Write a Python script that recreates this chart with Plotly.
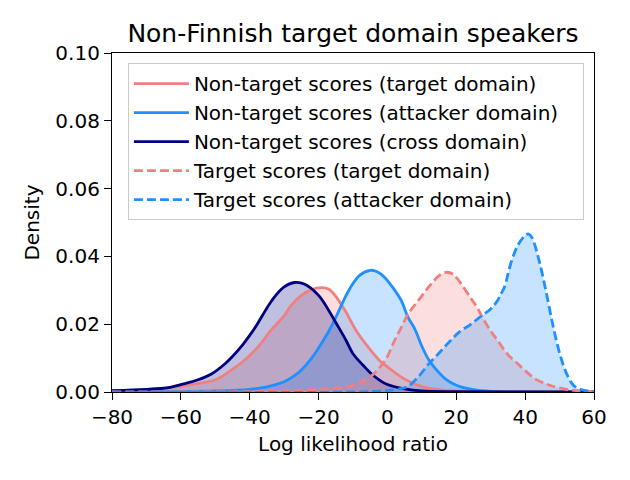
import plotly.graph_objects as go

# Non-target scores (target domain)
nt_target_x = [-80, -70, -60, -57, -50, -46, -42, -40, -37, -34, -30, -28, -25, -22, -19, -17, -15, -12, -9, -5, -2, 0, 5, 10, 15, 20, 30, 60]
nt_target_y = [0.0003, 0.0007, 0.0017, 0.0022, 0.0036, 0.006, 0.009, 0.0108, 0.014, 0.018, 0.0225, 0.0255, 0.0285, 0.0302, 0.0308, 0.0303, 0.0282, 0.0235, 0.018, 0.0125, 0.009, 0.0074, 0.0038, 0.0016, 0.0007, 0.0003, 0.0001, 0.0]

# Non-target scores (attacker domain)
nt_attacker_x = [-80, -60, -50, -40, -35, -30, -27, -25, -22, -20, -17, -15, -12, -10, -8, -5, -3, -1, 2, 4, 6, 8, 10, 12, 14, 17, 20, 25, 30, 40, 60]
nt_attacker_y = [0.0, 0.0001, 0.0003, 0.0008, 0.0015, 0.003, 0.0048, 0.0065, 0.010, 0.013, 0.018, 0.022, 0.0285, 0.032, 0.0345, 0.0359, 0.0355, 0.034, 0.0302, 0.027, 0.022, 0.0185, 0.0135, 0.0095, 0.0068, 0.0037, 0.002, 0.0007, 0.0002, 0.0, 0.0]

# Non-target scores (cross domain)
nt_cross_x = [-80, -70, -64, -60, -55, -51, -47, -45, -42, -40, -38, -35, -33, -30, -27, -24, -20, -17, -15, -12, -10, -7, -5, -2, 0, 5, 10, 20, 60]
nt_cross_y = [0.0004, 0.0008, 0.0012, 0.0022, 0.0036, 0.0054, 0.0085, 0.0105, 0.014, 0.0167, 0.0197, 0.0248, 0.0278, 0.031, 0.0323, 0.0318, 0.0285, 0.024, 0.0205, 0.0152, 0.0113, 0.0078, 0.0057, 0.0033, 0.0022, 0.0009, 0.0003, 0.0001, 0.0]

# Target scores (target domain)
t_target_x = [-80, -40, -30, -20, -10, -5, -2, 0, 2, 4, 6, 9, 12, 15, 17, 19, 21, 24, 26, 28, 30, 32, 35, 38, 40, 43, 46, 48, 52, 55, 60]
t_target_y = [0.0, 0.0001, 0.0003, 0.0008, 0.002, 0.0045, 0.0075, 0.0105, 0.015, 0.019, 0.023, 0.027, 0.031, 0.0343, 0.0353, 0.0348, 0.0325, 0.028, 0.025, 0.0213, 0.018, 0.0152, 0.011, 0.0082, 0.0063, 0.0038, 0.0024, 0.0017, 0.0008, 0.0004, 0.0001]

# Target scores (attacker domain)
t_attacker_x = [-80, -10, 0, 3, 6, 9, 12, 15, 18, 21, 24, 27, 30, 32, 33, 34, 36, 38, 40, 41, 42, 44, 46, 48, 50, 52, 54, 56, 58, 60]
t_attacker_y = [0.0, 0.0, 0.0004, 0.0008, 0.0017, 0.0045, 0.0083, 0.0115, 0.0148, 0.0178, 0.0198, 0.0222, 0.0245, 0.027, 0.029, 0.031, 0.0385, 0.0435, 0.0462, 0.0466, 0.0455, 0.039, 0.030, 0.020, 0.0115, 0.0055, 0.002, 0.0008, 0.0003, 0.0001]

series_names = [
    "Non-target scores (target domain)",
    "Non-target scores (attacker domain)",
    "Non-target scores (cross domain)",
    "Target scores (target domain)",
    "Target scores (attacker domain)",
]
series_x = [nt_target_x, nt_attacker_x, nt_cross_x, t_target_x, t_attacker_x]
series_y = [nt_target_y, nt_attacker_y, nt_cross_y, t_target_y, t_attacker_y]
series_rgb = [(240, 128, 128), (30, 144, 255), (0, 0, 128), (240, 128, 128), (30, 144, 255)]
series_dash = ["solid", "solid", "solid", "9px,4px", "9px,4px"]

x_ticks = [-80, -60, -40, -20, 0, 20, 40, 60]
x_tick_labels = ["\u221280", "\u221260", "\u221240", "\u221220", "0", "20", "40", "60"]
y_ticks = [0.0, 0.02, 0.04, 0.06, 0.08, 0.10]
y_tick_labels = ["0.00", "0.02", "0.04", "0.06", "0.08", "0.10"]

FONT = "DejaVu Sans"
fig = go.Figure()
# shaded areas first
for i in range(len(series_names)):
    r, g, b = series_rgb[i]
    fig.add_trace(go.Scatter(
        x=series_x[i], y=series_y[i], mode="lines", showlegend=False, hoverinfo="skip",
        line=dict(width=0, shape="spline", smoothing=1.0),
        fill="tozeroy", fillcolor=f"rgba({r},{g},{b},0.25)",
    ))
# lines on top
for i in range(len(series_names)):
    r, g, b = series_rgb[i]
    name = series_names[i]
    if i == 1:
        name = name + "\u00a0\u00a0\u00a0"
    fig.add_trace(go.Scatter(
        x=series_x[i], y=series_y[i], name=name, mode="lines",
        line=dict(color=f"rgb({r},{g},{b})", width=2.8, dash=series_dash[i], shape="spline", smoothing=1.0),
        legendgroup=f"g{i}",
    ))

axis_common = dict(
    showline=True, linecolor="black", linewidth=1.2, mirror=True,
    ticks="outside", ticklen=7, tickwidth=1.2, tickcolor="black",
    showgrid=False, zeroline=False,
    tickfont=dict(family=FONT, size=20, color="black"),
)

fig.update_layout(
    width=630, height=480,
    margin=dict(l=112, r=36, t=53, b=88),
    paper_bgcolor="white", plot_bgcolor="white",
    font=dict(family=FONT, color="black", size=20),
    title=dict(text="Non-Finnish target domain speakers", x=0.5, xref="paper",
               y=1 - 33 / 480, yref="container", yanchor="middle",
               font=dict(family=FONT, size=25, color="black")),
    xaxis=dict(range=[-80, 60], tickvals=x_ticks, ticktext=x_tick_labels,
               title=dict(text="Log likelihood ratio", font=dict(family=FONT, size=20), standoff=8),
               **axis_common),
    yaxis=dict(range=[0, 0.10], tickvals=y_ticks, ticktext=y_tick_labels,
               title=dict(text="Density", font=dict(family=FONT, size=20), standoff=10),
               **axis_common),
    legend=dict(x=0.033, y=0.97, xanchor="left", yanchor="top",
                bgcolor="rgba(255,255,255,0.8)", bordercolor="#cccccc", borderwidth=1,
                font=dict(family=FONT, size=20, color="black"),
                traceorder="grouped", tracegroupgap=0, itemwidth=55),
    showlegend=True,
)

fig.write_html("out.html")
